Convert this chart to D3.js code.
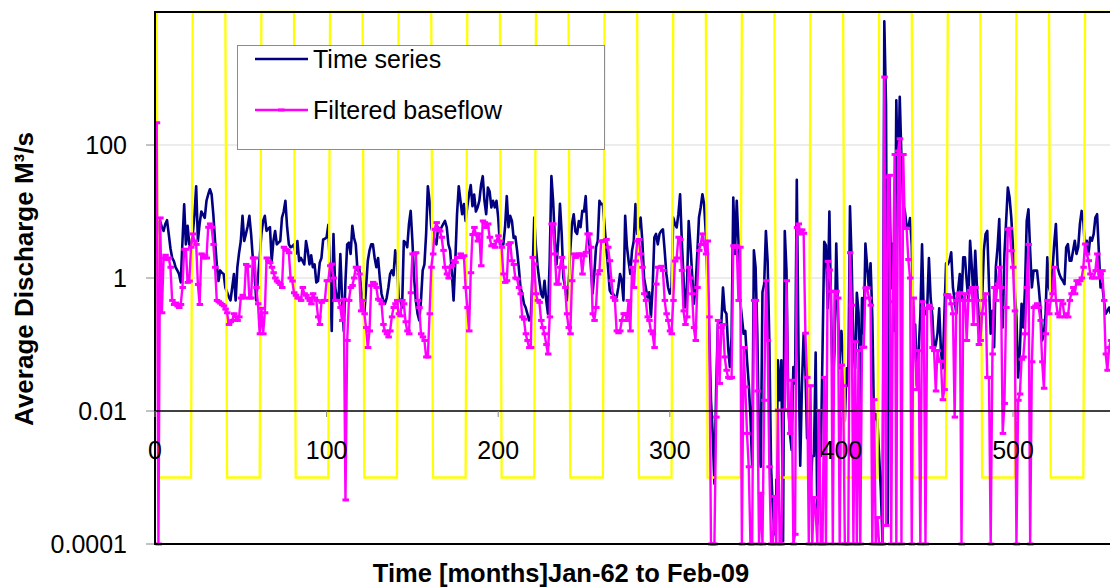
<!DOCTYPE html>
<html>
<head>
<meta charset="utf-8">
<script src="https://cdn.jsdelivr.net/npm/d3@7"></script>
<style>
  html, body { margin: 0; padding: 0; background: #ffffff; }
  svg { display: block; font-family: "Liberation Sans", Arial, sans-serif; }
</style>
</head>
<body>
<svg id="chart" width="1110" height="588"></svg>
<script>
// Monthly average discharge (m³/s), month 1 = Jan-62
const discharge = [
  4.0, 7.0, 7.2, 5.8, 5.1, 6.5, 7.4, 4.6, 2.8, 2.0,
  1.8, 1.45, 1.3, 1.15, 0.86, 3.5, 12.8, 3.2, 6.1, 3.2,
  2.9, 4.6, 9.0, 24, 3.6, 6.5, 10, 9.0, 8.0, 14.5,
  18, 21.6, 18, 9.0, 3.6, 1.6, 0.9, 1.3, 1.2, 1.15,
  0.72, 0.61, 0.52, 0.46, 0.72, 1.15, 0.46, 1.45, 2.4, 3.6,
  8.6, 3.6, 4.6, 6.0, 8.6, 4.6, 2.0, 1.15, 0.46, 1.0,
  2.0, 4.6, 7.2, 8.6, 5.1, 5.5, 5.8, 1.8, 3.6, 5.1,
  3.2, 3.4, 3.6, 8.1, 10, 14.5, 5.8, 3.2, 2.9, 3.0,
  3.2, 2.3, 3.6, 1.8, 2.0, 1.8, 1.6, 3.6, 2.6, 1.6,
  2.2, 1.45, 1.6, 0.86, 0.9, 1.7, 2.0, 3.8, 3.9, 4.1,
  6.3, 1.2, 0.16, 4.6, 0.72, 0.51, 0.46, 2.3, 0.5, 0.16,
  0.9, 3.2, 3.4, 2.3, 6.1, 4.0, 3.2, 1.3, 1.45, 0.72,
  0.46, 0.29, 0.72, 1.8, 2.6, 3.2, 3.2, 2.0, 1.45, 2.0,
  1.0, 0.58, 0.46, 0.41, 0.5, 0.72, 1.15, 1.3, 1.1, 2.6,
  1.8, 0.5, 0.46, 0.36, 3.6, 3.4, 2.9, 6.5, 10.2, 3.6,
  1.0, 0.46, 0.29, 0.23, 0.46, 1.3, 1.6, 4.6, 24, 14.5,
  5.8, 4.6, 3.6, 3.2, 5.8, 5.1, 5.8, 6.5, 7.2, 5.8,
  3.2, 2.6, 1.2, 0.46, 1.8, 9.1, 24, 14.5, 9.1, 12.9,
  7.2, 12, 18, 25, 12, 18, 10, 11.5, 14.5, 25,
  34, 14.5, 9.1, 23, 20, 11.5, 14.5, 11.5, 14.5, 8.1,
  3.2, 3.2, 3.2, 5.8, 17, 5.8, 8.6, 7.2, 4.0, 4.2,
  2.6, 1.45, 0.72, 0.58, 0.41, 0.36, 0.29, 0.23, 0.26, 1.15,
  8.1, 2.9, 1.45, 0.91, 0.58, 0.51, 0.91, 0.46, 0.29, 1.8,
  34, 14.5, 4.0, 1.6, 3.6, 13, 4.6, 1.0, 0.73, 0.46,
  0.73, 2.6, 6.5, 9.1, 5.0, 4.6, 7.2, 5.8, 10.2, 10,
  17, 4.6, 3.6, 1.45, 0.58, 1.15, 2.9, 3.6, 14.5, 12.9,
  12.9, 6.0, 2.9, 1.45, 0.65, 0.58, 0.58, 0.51, 0.51, 0.72,
  1.15, 0.91, 0.46, 8.6, 3.0, 1.8, 1.15, 2.6, 3.6, 12.9,
  4.6, 6.0, 8.1, 3.6, 1.0, 0.72, 0.51, 0.61, 0.26, 0.72,
  4.1, 4.6, 3.2, 4.6, 5.1, 5.4, 2.6, 1.15, 0.72, 0.58,
  0.72, 8.1, 6.5, 5.75, 9.1, 18.2, 3.6, 1.0, 0.36, 0.72,
  7.2, 3.2, 1.15, 0.41, 0.72, 2.3, 8.1, 11.5, 18.2, 12.9,
  4.6, 0.72, 0.145, 0.0145, 0.0046, 0.00081, 0.02, 0.2, 0.23, 0.2,
  0.72, 0.32, 0.29, 0.09, 0.046, 0.13, 16.2, 2.3, 14.5, 3.6,
  0.46, 0.26, 0.145, 0.16, 0.058, 0.026, 0.0081, 0.00145, 2.6, 1.45,
  0.145, 0.0026, 0.00145, 0.61, 0.81, 5.1, 1.8, 0.115, 0.00145, 0.00036,
  0.00014, 0.00046, 0.058, 0.0145, 0.058, 0.00011, 5.1, 1.3, 0.0145, 0.0046,
  0.0026, 0.046, 0.026, 30, 0.081, 0.0015, 0.024, 0.147, 0.044, 0.0039,
  0.0039, 0.00063, 0.0021, 0.0021, 0.076, 0.0002, 0.0021, 0.0021, 0.081, 3.5,
  3.1, 0.35, 10, 0.27, 0.024, 0.081, 3.3, 0.3, 0.044, 0.16,
  0.081, 0.0071, 0.044, 0.024, 12, 1.67, 0.081, 0.044, 0.6, 0.3,
  0.011, 0.5, 0.147, 3.3, 1.5, 0.7, 1.67, 0.27, 0.0071, 0.009,
  0.0071, 0.0021, 0.00063, 0.0001, 7250, 400, 0.0002, 35, 0.7, 3.3,
  0.16, 470, 19, 530, 63, 13, 10, 6, 5.6, 8,
  3.1, 0.081, 0.2, 0.024, 0.081, 0.27, 3.2, 0.27, 0.3, 0.35,
  2.0, 0.5, 0.27, 0.081, 0.1, 0.147, 0.35, 0.081, 0.044, 0.27,
  1.67, 1.6, 1.82, 2.43, 0.72, 0.46, 0.29, 0.65, 1.15, 0.46,
  2.04, 2.04, 0.91, 0.46, 3.63, 1.45, 0.46, 2.57, 0.72, 0.26,
  0.115, 0.46, 2.57, 4.57, 5.1, 0.81, 0.145, 0.32, 0.091, 1.45,
  2.9, 7.7, 0.46, 0.18, 2.3, 7.2, 22.9, 16.2, 8.1, 2.9,
  0.72, 0.26, 0.032, 0.081, 0.41, 0.18, 0.72, 7.2, 10.8, 2.57,
  0.72, 1.29, 1.29, 1.29, 0.72, 0.36, 0.115, 0.145, 0.29, 2.04,
  0.72, 0.58, 1.29, 3.24, 6.5, 1.45, 1.15, 1.0, 0.91, 0.81,
  2.9, 3.24, 1.82, 1.82, 2.57, 3.63, 2.3, 2.9, 6.5, 10.2,
  7.2, 2.57, 3.63, 2.3, 4.07, 3.63, 4.57, 8.1, 9.1, 2.57,
  0.72, 0.81, 0.46, 0.29, 0.32, 0.36, 0.29
];

// Filtered baseflow (m³/s), same months; 0.0001 marks months at the axis floor
const baseflow = [
  216, 0.0001, 8.0, 0.3, 2.0, 2.2, 1.9, 2.0, 1.45, 0.46,
  0.4, 0.42, 0.38, 0.36, 0.4, 0.72, 2.7, 2.7, 0.86, 0.9,
  2.9, 4.6, 3.6, 3.2, 0.8, 0.4, 2.3, 2.0, 2.2, 2.0,
  5.8, 6.5, 5.8, 3.2, 1.45, 0.46, 0.44, 0.42, 0.4, 0.38,
  0.34, 0.3, 0.2, 0.22, 0.23, 0.29, 0.26, 0.23, 0.26, 0.5,
  0.55, 0.5, 1.6, 1.5, 0.5, 0.5, 2.0, 2.0, 0.72, 0.41,
  0.145, 0.35, 0.145, 0.3, 2.0, 1.8, 1.7, 1.45, 1.2, 1.0,
  0.9, 0.85, 0.8, 0.72, 2.9, 2.7, 2.6, 2.4, 1.0, 0.9,
  0.6, 0.55, 0.5, 0.5, 0.46, 0.72, 0.58, 0.55, 0.5, 0.46,
  0.41, 0.58, 0.5, 0.46, 0.26, 0.2, 0.43, 0.46, 0.46, 0.91,
  0.91, 1.53, 1.62, 1.0, 0.46, 0.46, 0.46, 0.36, 0.23, 0.48,
  0.00046, 0.115, 0.46, 0.72, 0.77, 1.0, 1.45, 1.45, 1.15, 0.32,
  0.46, 0.29, 0.18, 0.09, 0.16, 0.77, 0.86, 0.81, 0.72, 0.48,
  0.46, 0.41, 0.2, 0.16, 0.145, 0.13, 0.16, 0.26, 0.36, 0.41,
  0.46, 0.29, 0.27, 0.46, 0.41, 0.22, 0.16, 0.145, 0.6, 2.3,
  2.3, 2.4, 0.46, 0.36, 0.145, 0.13, 0.115, 0.065, 0.065, 0.29,
  1.45, 2.3, 5.4, 6.8, 5.4, 5.1, 4.1, 2.6, 1.45, 1.15,
  1.0, 1.45, 1.53, 1.82, 1.72, 2.04, 2.04, 2.3, 2.04, 2.16,
  0.72, 0.36, 0.16, 1.2, 4.5, 5.75, 4.6, 3.6, 4.6, 1.53,
  7.2, 6.8, 5.75, 6.5, 4.1, 3.05, 3.2, 2.9, 3.6, 4.3,
  3.6, 2.9, 1.15, 0.86, 0.91, 3.2, 3.4, 1.82, 1.6, 1.0,
  0.97, 0.72, 0.58, 0.26, 0.24, 0.145, 0.115, 0.09, 0.09, 2.04,
  1.62, 0.58, 0.46, 0.43, 0.23, 0.18, 0.145, 0.1, 0.072, 0.26,
  6.5, 6.5, 2.3, 0.81, 0.81, 1.45, 2.04, 1.45, 0.72, 0.29,
  0.18, 0.145, 0.91, 2.3, 2.04, 2.16, 2.3, 2.3, 1.15, 2.16,
  2.43, 4.6, 4.6, 2.9, 0.29, 0.23, 0.36, 1.15, 1.29, 3.6,
  3.6, 3.6, 3.8, 2.9, 1.82, 0.91, 0.51, 0.46, 0.16, 0.15,
  0.16, 0.23, 0.29, 0.29, 0.23, 0.46, 0.16, 1.45, 0.72, 1.8,
  3.6, 3.8, 2.3, 1.45, 0.58, 0.46, 0.26, 0.23, 0.16, 0.145,
  0.09, 0.81, 1.45, 1.45, 1.5, 1.3, 0.46, 0.29, 0.23, 0.16,
  0.145, 0.46, 1.8, 2.0, 4.1, 3.8, 1.3, 0.32, 0.2, 0.26,
  1.45, 1.0, 0.58, 0.18, 0.115, 0.72, 2.6, 3.2, 4.6, 3.2,
  2.3, 3.6, 0.26, 0.0001, 0.0001, 0.0001, 0.0081, 0.23, 0.026, 0.18,
  0.2, 0.065, 0.041, 0.032, 0.031, 0.032, 3.05, 2.9, 3.05, 0.46,
  2.9, 0.0001, 0.09, 0.023, 0.0046, 0.00145, 0.0001, 0.0001, 0.46, 0.46,
  0.02, 0.0001, 0.00058, 0.0001, 0.0145, 0.91, 0.115, 0.00145, 0.0001, 0.0001,
  0.00052, 0.0001, 0.0103, 0.0001, 0.0001, 0.0103, 0.0103, 0.91, 0.0103, 0.0046,
  0.029, 0.0001, 0.00014, 5.75, 6.5, 4.6, 5.3, 4.7, 0.148, 0.032,
  0.0001, 0.024, 0.0001, 0.0005, 0.0003, 0.0001, 0.0102, 0.0001, 0.0001, 0.032,
  0.0001, 1.78, 1.32, 0.63, 0.0001, 0.63, 0.63, 0.5, 0.0001, 0.049,
  0.024, 0.0001, 0.0001, 0.0001, 2.4, 0.39, 0.0001, 0.11, 0.0001, 0.081,
  0.0001, 0.091, 0.091, 0.71, 0.71, 0.5, 0.39, 0.0001, 0.0148, 0.0001,
  0.00025, 0.0001, 0.0001, 0.0001, 1050, 0.00019, 33, 35, 0.0001, 0.44,
  72, 0.0001, 81, 124, 0.0001, 72, 5.6, 5.6, 1.9, 1.0,
  0.0001, 0.5, 0.081, 0.021, 0.081, 0.0001, 0.44, 0.35, 0.0001, 0.35,
  0.39, 0.35, 0.09, 0.081, 0.02, 0.081, 0.056, 0.056, 0.0148, 0.021,
  0.56, 0.56, 0.51, 0.41, 0.29, 0.0081, 0.46, 0.58, 0.6, 0.0001,
  0.46, 0.58, 0.115, 0.46, 0.65, 0.72, 0.2, 0.72, 0.46, 0.1,
  0.115, 0.29, 0.46, 0.58, 0.032, 0.032, 0.0001, 0.072, 0.72, 0.46,
  0.81, 1.45, 0.72, 0.0046, 0.013, 0.36, 5.4, 5.6, 2.57, 1.45,
  0.32, 0.0001, 0.0145, 0.018, 0.06, 0.065, 0.145, 0.72, 3.2, 0.0001,
  0.055, 0.36, 0.38, 0.41, 0.36, 0.23, 0.055, 0.022, 0.145, 0.46,
  0.29, 0.46, 0.58, 1.45, 0.46, 0.29, 0.26, 0.46, 0.41, 0.26,
  0.29, 0.26, 0.46, 0.58, 0.72, 0.58, 0.91, 0.81, 0.91, 1.0,
  1.45, 3.24, 2.3, 1.82, 1.15, 1.0, 1.0, 1.29, 2.3, 1.0,
  1.15, 1.29, 0.46, 0.072, 0.041, 0.09, 0.115
];

// Dry-season windows (first and last month of each low period)
const dryStart = [2, 42, 82, 122, 162, 202, 242, 282, 322, 362, 402, 442, 482, 522];
const dryEnd   = [21, 61, 101, 141, 181, 221, 261, 301, 341, 381, 421, 461, 501, 541];
const seasonLevels = { wet: 10000, dry: 0.001 };

// Axis ticks and labels
const yTickValues = [0.0001, 0.01, 1, 100];
const yTickLabels = ["0.0001", "0.01", "1", "100"];
const yGridValues = [1, 100, 10000];
const xTickValues = [0, 100, 200, 300, 400, 500];
const seriesNames = ["Time series", "Filtered baseflow"];
const axisTitles = { x: "Time [months]Jan-62 to Feb-09", y: "Average Discharge M³/s" };

const colors = { flow: "#000080", base: "#ff00ff", season: "#ffff00", grid: "#d9d9d9", tick: "#868686" };

// Seasonal indicator built from the window table
const season = discharge.map((_, i) => {
  const m = i + 1;
  const dry = dryStart.some((s, k) => m >= s && m <= dryEnd[k]);
  return dry ? seasonLevels.dry : seasonLevels.wet;
});

const svg = d3.select("#chart");
const W = 1110, H = 588;
const plot = { left: 155, top: 12, bottom: 544 };

const x = d3.scaleLinear().domain([0, 560]).range([plot.left, plot.left + 560 * 1.716]);
const y = d3.scaleLog().domain([0.0001, 10000]).range([plot.bottom, plot.top]);

svg.append("rect").attr("width", W).attr("height", H).attr("fill", "#ffffff");

svg.append("defs").append("clipPath").attr("id", "plotClip")
  .append("rect")
  .attr("x", plot.left).attr("y", plot.top - 2)
  .attr("width", W - plot.left).attr("height", plot.bottom - plot.top + 4);

// Horizontal gridlines
svg.append("g").selectAll("line").data(yGridValues).join("line")
  .attr("x1", plot.left).attr("x2", W)
  .attr("y1", d => y(d)).attr("y2", d => y(d))
  .attr("stroke", colors.grid).attr("stroke-width", 1);

const lineGen = d3.line().x((d, i) => x(i + 1)).y(d => y(d));
const series = svg.append("g").attr("clip-path", "url(#plotClip)");

series.append("path").datum(discharge)
  .attr("d", lineGen)
  .attr("fill", "none").attr("stroke", colors.flow)
  .attr("stroke-width", 2.6).attr("stroke-linejoin", "round");

series.append("path").datum(season)
  .attr("d", lineGen)
  .attr("fill", "none").attr("stroke", colors.season)
  .attr("stroke-width", 2.3);

series.append("path").datum(baseflow)
  .attr("d", lineGen)
  .attr("fill", "none").attr("stroke", colors.base)
  .attr("stroke-width", 2.4).attr("stroke-linejoin", "round");

// Dash markers on the baseflow series
series.append("g").selectAll("rect").data(baseflow).join("rect")
  .attr("x", (d, i) => x(i + 1) - 3)
  .attr("y", d => y(d) - 1.5)
  .attr("width", 6.5).attr("height", 3)
  .attr("fill", colors.base);

// Plot frame: top and bottom borders, value axis, category axis at 0.01
const frame = svg.append("g");
frame.append("line").attr("x1", plot.left).attr("x2", W)
  .attr("y1", plot.top).attr("y2", plot.top)
  .attr("stroke", "#000").attr("stroke-width", 2);
frame.append("line").attr("x1", plot.left).attr("x2", W)
  .attr("y1", plot.bottom).attr("y2", plot.bottom)
  .attr("stroke", "#000").attr("stroke-width", 2.2);
frame.append("line").attr("x1", plot.left).attr("x2", W)
  .attr("y1", y(0.01)).attr("y2", y(0.01))
  .attr("stroke", "#000").attr("stroke-width", 1.4);
frame.append("line").attr("x1", plot.left).attr("x2", plot.left)
  .attr("y1", plot.top - 1).attr("y2", plot.bottom + 1)
  .attr("stroke", "#000").attr("stroke-width", 2);

// Y axis ticks and labels
const yAxis = svg.append("g");
yAxis.selectAll("line").data(yTickValues).join("line")
  .attr("x1", plot.left - 9).attr("x2", plot.left - 1)
  .attr("y1", d => y(d)).attr("y2", d => y(d))
  .attr("stroke", colors.tick).attr("stroke-width", 1);
yAxis.selectAll("text").data(yTickValues).join("text")
  .attr("x", 127).attr("y", d => y(d) + 9)
  .attr("text-anchor", "end")
  .attr("font-size", 25).attr("fill", "#000")
  .text((d, i) => yTickLabels[i]);

// X axis ticks and labels
const xAxis = svg.append("g");
xAxis.selectAll("line").data(xTickValues).join("line")
  .attr("x1", d => x(d)).attr("x2", d => x(d))
  .attr("y1", y(0.01)).attr("y2", y(0.01) + 6)
  .attr("stroke", colors.tick).attr("stroke-width", 1);
xAxis.selectAll("text").data(xTickValues).join("text")
  .attr("x", d => x(d)).attr("y", 459)
  .attr("text-anchor", "middle")
  .attr("font-size", 25).attr("fill", "#000")
  .text(d => String(d));

// Axis titles
svg.append("text")
  .attr("x", 561).attr("y", 582)
  .attr("text-anchor", "middle")
  .attr("font-size", 25.5).attr("font-weight", "bold")
  .text(axisTitles.x);
svg.append("text")
  .attr("transform", "translate(33,279) rotate(-90)")
  .attr("text-anchor", "middle")
  .attr("font-size", 26).attr("font-weight", "bold")
  .text(axisTitles.y);

// Legend
const legend = svg.append("g");
legend.append("rect")
  .attr("x", 237.5).attr("y", 45.5).attr("width", 367).attr("height", 104)
  .attr("fill", "#ffffff").attr("stroke", "#8c8c8c").attr("stroke-width", 1);
const legendRows = [
  { name: seriesNames[0], color: colors.flow, y: 59, marker: false },
  { name: seriesNames[1], color: colors.base, y: 110, marker: true }
];
legendRows.forEach(r => {
  legend.append("line").attr("x1", 255).attr("x2", 308)
    .attr("y1", r.y).attr("y2", r.y)
    .attr("stroke", r.color).attr("stroke-width", 2.4);
  if (r.marker) {
    legend.append("rect").attr("x", 278).attr("y", r.y - 1.5)
      .attr("width", 6.5).attr("height", 3).attr("fill", r.color);
  }
  legend.append("text").attr("x", 313).attr("y", r.y + 9)
    .attr("font-size", 25).attr("fill", "#000").text(r.name);
});
</script>
</body>
</html>
